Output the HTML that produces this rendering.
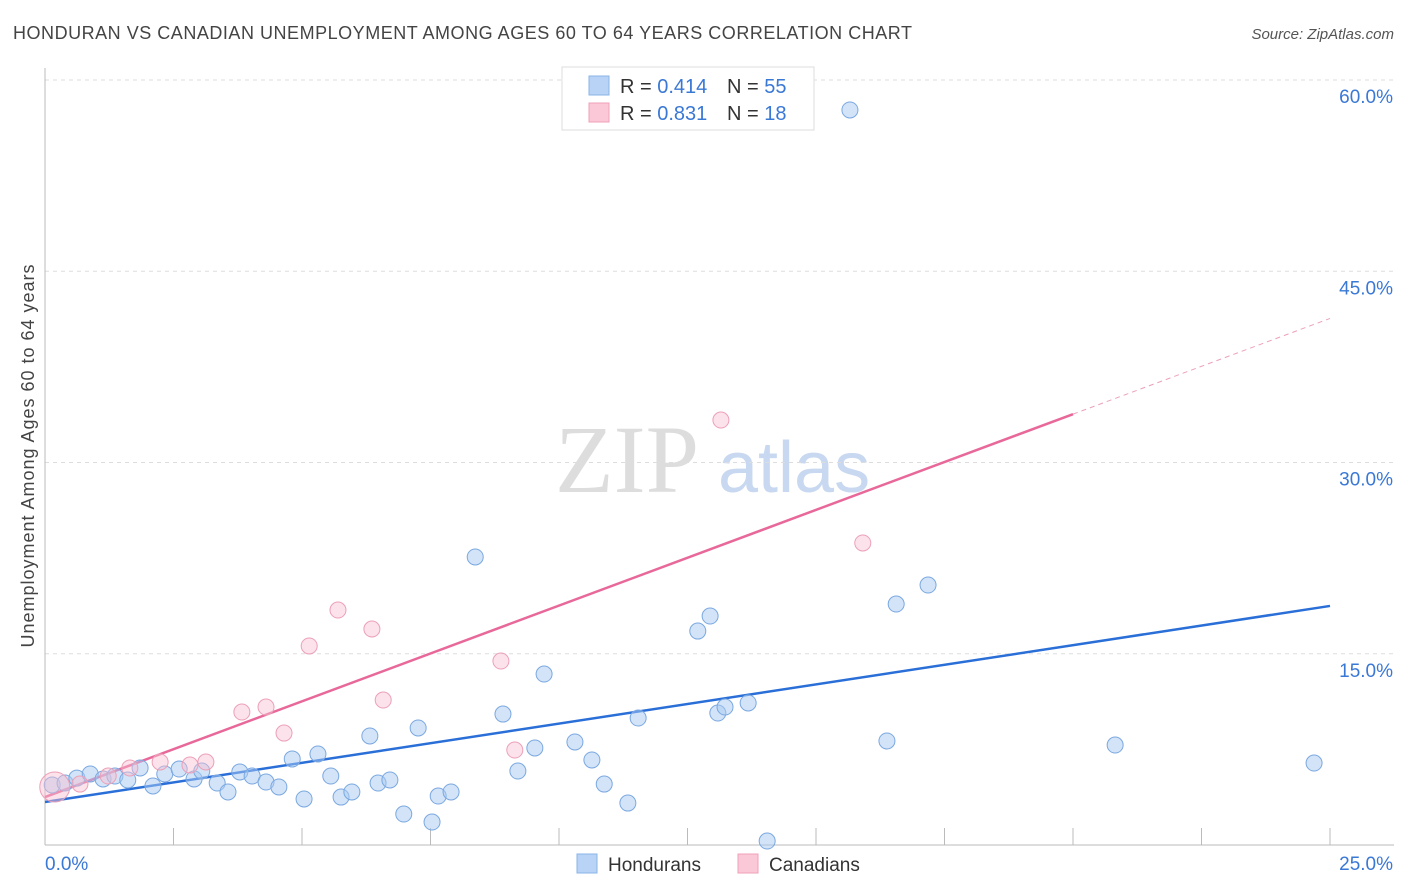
<!DOCTYPE html>
<html><head><meta charset="utf-8"><style>
body{margin:0;background:#fff;font-family:"Liberation Sans",sans-serif;}
svg{display:block}
</style></head><body>
<svg id="c" width="1406" height="892" xmlns="http://www.w3.org/2000/svg">
<text x="13" y="39" font-size="18" fill="#444" textLength="899">HONDURAN VS CANADIAN UNEMPLOYMENT AMONG AGES 60 TO 64 YEARS CORRELATION CHART</text>
<text x="1394" y="39" font-size="15" fill="#555" font-style="italic" text-anchor="end">Source: ZipAtlas.com</text>
<text transform="translate(34,456) rotate(-90)" font-size="18" fill="#444" text-anchor="middle" textLength="383">Unemployment Among Ages 60 to 64 years</text>
<g>
<text x="555" y="492" font-size="96" font-family="Liberation Serif,serif" fill="#ddd">ZIP</text>
<text x="718" y="492" font-size="72" fill="#c8d8f0">atlas</text>
</g>
<g id="grid"></g><g id="axes"></g><g id="lines"></g><g id="pts"></g>
<g>
<rect x="562" y="67" width="252" height="63" fill="#fff" stroke="#ddd"/>
<rect x="589" y="76" width="20" height="19" fill="#b8d3f5" stroke="#8ab4e8"/>
<rect x="589" y="103" width="20" height="19" fill="#fac8d6" stroke="#f0a0b8"/>
<text x="620" y="93" font-size="20" fill="#333">R = <tspan fill="#3a78d6">0.414</tspan>  <tspan x="727">N = </tspan><tspan fill="#3a78d6">55</tspan></text>
<text x="620" y="120" font-size="20" fill="#333">R = <tspan fill="#3a78d6"> 0.831</tspan>  <tspan x="727">N = </tspan><tspan fill="#3a78d6"> 18</tspan></text>
</g>
<g>
<rect x="577" y="854" width="20" height="19" fill="#b8d3f5" stroke="#8ab4e8"/>
<text x="608" y="871" font-size="19" fill="#333">Hondurans</text>
<rect x="738" y="854" width="20" height="19" fill="#fac8d6" stroke="#f0a0b8"/>
<text x="769" y="871" font-size="19" fill="#333">Canadians</text>
</g>
</svg>
<script>
const yTicks=[15,30,45,60];
const yTickLabels=["15.0%","30.0%","45.0%","60.0%"];
const hondX=[0.14,0.39,0.62,0.88,1.13,1.36,1.61,1.85,2.10,2.33,2.61,2.90,3.05,3.35,3.56,3.79,4.03,4.30,4.55,4.81,5.04,5.31,5.56,5.76,5.97,6.32,6.48,6.71,6.98,7.26,7.53,7.65,7.90,8.37,8.91,9.20,9.53,9.71,10.31,10.64,10.88,11.34,11.54,12.70,12.94,13.09,13.23,13.68,14.05,15.66,16.38,16.56,17.18,20.82,24.69];
const hondY=[4.71,4.86,5.25,5.57,5.18,5.41,5.10,6.04,4.63,5.57,5.96,5.18,5.80,4.86,4.16,5.73,5.41,4.94,4.55,6.75,3.61,7.14,5.41,3.76,4.16,8.55,4.86,5.10,2.43,9.18,1.80,3.84,4.16,22.59,10.27,5.80,7.61,13.41,8.08,6.67,4.78,3.29,9.96,16.78,17.96,10.35,10.82,11.14,0.31,57.65,8.16,18.90,20.39,7.84,6.43];
const canX=[0.19,0.68,1.23,1.65,2.24,2.82,3.13,3.83,4.30,4.65,5.14,5.70,6.36,6.58,8.87,9.14,13.15,15.91];
const canY=[4.55,4.78,5.41,6.04,6.51,6.27,6.51,10.43,10.82,8.78,15.61,18.43,16.94,11.37,14.43,7.45,33.33,23.69];
const hondLine=[3.37,18.75];
const canLine=[3.76,41.3];
const NS="http://www.w3.org/2000/svg";
const sx=v=>45+v*51.4, sy=v=>845-v*12.75;
function mk(tag,at,parent){const e=document.createElementNS(NS,tag);for(const k in at)e.setAttribute(k,at[k]);document.getElementById(parent).appendChild(e);return e;}
yTicks.forEach((t,i)=>{
 const g=mk('line',{x1:45,x2:1394,y1:sy(t),y2:sy(t),stroke:'#ddd','stroke-dasharray':'4,4'},'grid');
 
 
 const l=mk('text',{x:1393,y:sy(t)+23,'font-size':19,fill:'#3a78d6','text-anchor':'end'},'grid');
 l.textContent=yTickLabels[i];
 
 
});
mk('line',{x1:45,x2:45,y1:68,y2:845,stroke:'#bbb'},'axes');
mk('line',{x1:45,x2:1394,y1:845,y2:845,stroke:'#bbb'},'axes');
for(let i=1;i<=10;i++){mk('line',{x1:sx(i*2.5),x2:sx(i*2.5),y1:828,y2:845,stroke:'#bbb'},'axes');}
let t0=mk('text',{x:45,y:870,'font-size':19,fill:'#3a78d6'},'axes');t0.textContent='0.0%';


let t1=mk('text',{x:1393,y:870,'font-size':19,fill:'#3a78d6','text-anchor':'end'},'axes');t1.textContent='25.0%';


hondX.forEach((x,i)=>{const c=mk('circle',{cx:sx(x),cy:sy(hondY[i]),r:8,fill:'rgba(168,202,242,0.5)',stroke:'#7aa8e0','stroke-width':1},'pts');
 
 });
canX.forEach((x,i)=>{const c=mk('circle',{cx:sx(x),cy:sy(canY[i]),r:i==0?15:8,fill:'rgba(248,190,208,0.45)',stroke:'#eca0b8','stroke-width':1},'pts');
 
 });
let bl=mk('line',{x1:sx(0),y1:sy(hondLine[0]),x2:sx(25),y2:sy(hondLine[1]),stroke:'#2a6fd8','stroke-width':2.5},'lines');


const cy20=canLine[0]+(canLine[1]-canLine[0])*0.8;
let pl=mk('line',{x1:sx(0),y1:sy(canLine[0]),x2:sx(20),y2:sy(cy20),stroke:'#e8689a','stroke-width':2.5},'lines');


let pd=mk('line',{x1:sx(20),y1:sy(cy20),x2:sx(25),y2:sy(canLine[1]),stroke:'#eca0b8','stroke-width':1,'stroke-dasharray':'5,4'},'lines');


</script>
</body></html>
